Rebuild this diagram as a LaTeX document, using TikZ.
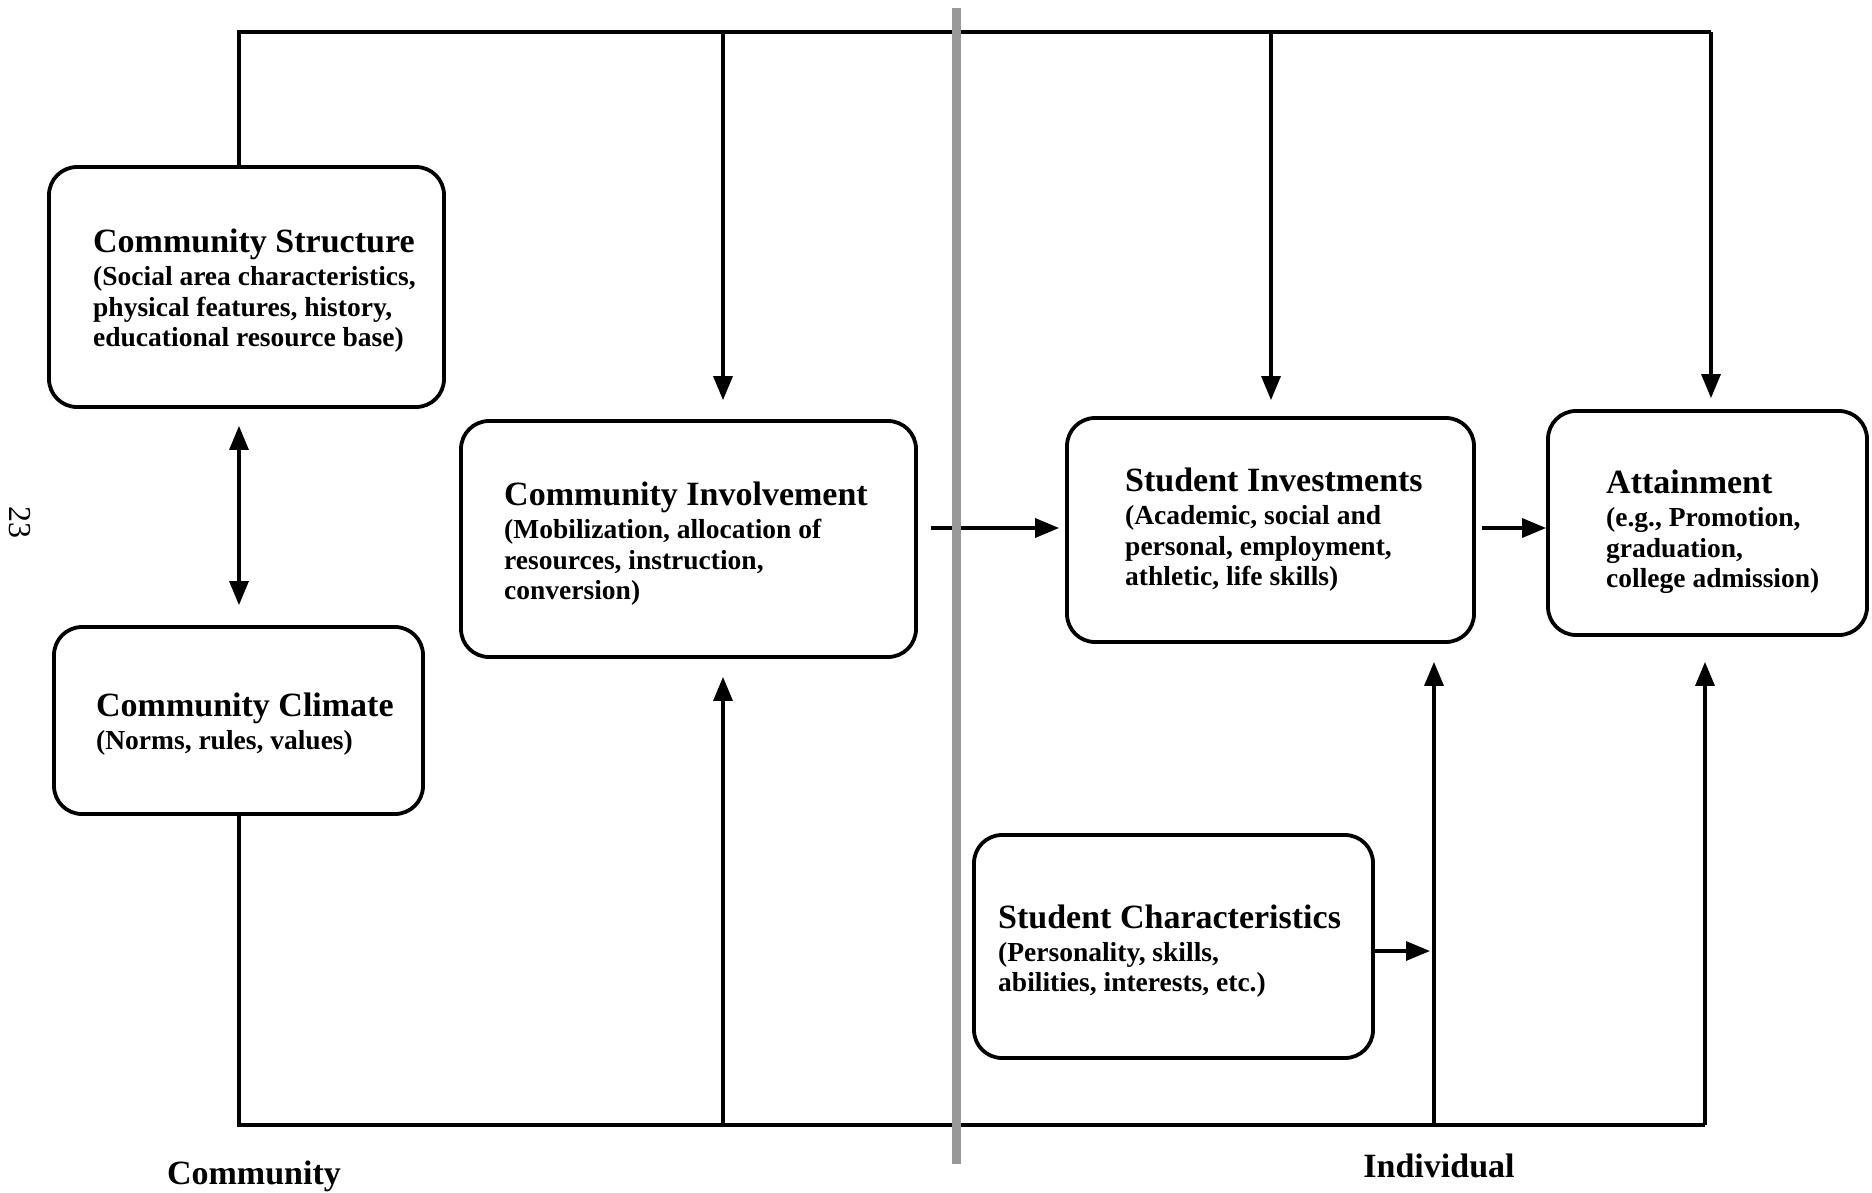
\documentclass[tikz,border=0pt]{standalone}
\usepackage{fontspec}
\setmainfont{Liberation Serif}
\usetikzlibrary{arrows.meta}
\newcommand{\ttl}[1]{{\fontsize{34}{34}\selectfont #1}}
\begin{document}
\begin{tikzpicture}[x=1pt,y=-1pt,
  box/.style={draw, line width=3.8pt, rounded corners=28pt, inner sep=0pt},
  txt/.style={anchor=west, align=left, inner sep=0pt,
    font=\bfseries\fontsize{27.5}{30.5}\selectfont},
  conn/.style={line width=3.3pt},
  arr/.style={conn, -{Triangle[length=24pt,width=19pt]}},
  lbl/.style={font=\bfseries\fontsize{34}{34}\selectfont, inner sep=0pt}
]
\useasboundingbox (0,0) rectangle (1872,1192);

% boxes
\node[box, minimum width=395pt, minimum height=240pt] (cs) at (246.5,287) {};
\node[box, minimum width=369pt, minimum height=187pt] (cc) at (238.5,720.5) {};
\node[box, minimum width=455pt, minimum height=236pt] (ci) at (688.5,539) {};
\node[box, minimum width=407pt, minimum height=224pt] (si) at (1270.5,530) {};
\node[box, minimum width=319pt, minimum height=224pt] (at) at (1707.5,523) {};
\node[box, minimum width=399pt, minimum height=223pt] (sc) at (1173.5,946.5) {};

% box texts
\node[txt] (cst) at (93,291)
  {\ttl{Community Structure}\\[2.5pt](Social area characteristics,\\ physical features, history,\\ educational resource base)};
\node[txt] (cct) at (96,724)
  {\ttl{Community Climate}\\[2.5pt](Norms, rules, values)};
\node[txt] (cit) at (504,544)
  {\ttl{Community Involvement}\\[2.5pt](Mobilization, allocation of\\ resources, instruction,\\ conversion)};
\node[txt] (sit) at (1125,530)
  {\ttl{Student Investments}\\[2.5pt](Academic, social and\\ personal, employment,\\ athletic, life skills)};
\node[txt] (att) at (1606,532)
  {\ttl{Attainment}\\[2.5pt](e.g., Promotion,\\ graduation,\\ college admission)};
\node[txt] (sct) at (998,951)
  {\ttl{Student Characteristics}\\[2.5pt](Personality, skills,\\ abilities, interests, etc.)};

% routing coordinates
\coordinate (tl) at (239,32);
\coordinate (tr) at (1711,32);
\coordinate (t1) at (723,32);
\coordinate (t2) at (1271,32);
\coordinate (bl) at (239,1125);
\coordinate (br) at (1705,1125);
\coordinate (b1) at (723,1125);
\coordinate (b2) at (1434,1125);
\coordinate (m1) at (0,528);
\coordinate (m2) at (0,951);

% top feedback line
\draw[conn] (tl |- cs.north) -- (tl) -- (tr);
\draw[arr, shorten >=19pt] (t1) -- (t1 |- ci.north);
\draw[arr, shorten >=16pt] (t2) -- (t2 |- si.north);
\draw[arr, shorten >=11pt] (tr) -- (tr |- at.north);

% bottom line
\draw[conn] (bl |- cc.south) -- (bl) -- (br);
\draw[arr, shorten >=18pt] (b1) -- (b1 |- ci.south);
\draw[arr, shorten >=18pt] (b2) -- (b2 |- si.south);
\draw[arr, shorten >=25pt] (br) -- (br |- at.south);

% double arrow structure <-> climate
\draw[conn, {Triangle[length=24pt,width=19pt]}-{Triangle[length=24pt,width=19pt]},
  shorten <=17pt, shorten >=20pt] (tl |- cs.south) -- (tl |- cc.north);

% horizontal arrows
\draw[arr, shorten <=13pt, shorten >=6pt] (ci.east |- m1) -- (si.west |- m1);
\draw[arr, shorten <=6pt] (si.east |- m1) -- (at.west |- m1);
\draw[arr, shorten >=4pt] (sc.east |- m2) -- (b2 |- m2);

% community / individual divider
\fill[black!40] (952,8) rectangle (961,1164);

% labels
\node[lbl] (lc) at (254,1176) {Community};
\node[lbl] (li) at (1439,1166) {Individual};
\node[rotate=-90, font=\fontsize{32}{32}\selectfont, inner sep=0pt] (pg) at (20,522) {23};
\end{tikzpicture}
\end{document}
